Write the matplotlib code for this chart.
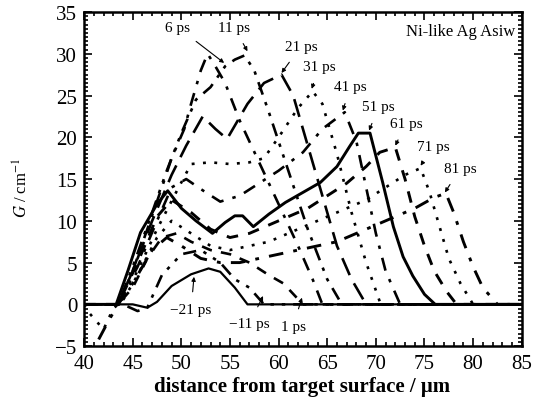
import matplotlib.pyplot as plt
from matplotlib.ticker import MultipleLocator

plt.rcParams["font.family"] = ["Liberation Serif", "DejaVu Serif"]
plt.rcParams["mathtext.fontset"] = "stix"

# gain profiles G(x) at successive delays (ps)
x_m21 = [40, 45, 46.5, 47.5, 49, 51, 52.8, 54, 55.5, 56.8, 85]
g_m21 = [0, 0, -0.4, 0.3, 2.2, 3.6, 4.3, 3.9, 2.0, 0, 0]

x_m11 = [40, 44, 45.5, 46.5, 48, 50, 52, 54, 55.5, 57, 58.5, 85]
g_m11 = [0, 0, -0.8, -0.4, 3.5, 6, 6.5, 5, 3, 2, 0, 0]

x_1 = [40, 43.5, 45, 46.5, 48, 49.5, 51, 53, 55, 57, 59, 60.5, 62.5, 85]
g_1 = [0, 0, 2, 5.5, 8, 8.5, 7.5, 6.5, 6, 5, 3.5, 2.5, 0, 0]

x_6 = [40, 43.5, 45, 46.5, 48, 49, 50.3, 51, 52, 52.7, 53.5, 54.5, 56, 58, 60, 62, 63.5, 64.5, 85]
g_6 = [0, 0, 4, 9, 14, 17.5, 21, 24, 28, 30, 28.5, 26.5, 22, 17, 12, 7, 3, 0, 0]

x_11 = [40, 43.5, 45, 47, 48.5, 50, 51.5, 53, 54.5, 55.5, 56.5, 57.5, 59, 61, 63, 65, 66.5, 85]
g_11 = [0, 0, 4.5, 11, 16, 20.5, 24.5, 26, 28.5, 29.3, 29.8, 28, 23, 16, 9, 3, 0, 0]

x_21 = [40, 43.5, 45, 47, 49, 50.5, 52.2, 53.5, 54.7, 56.8, 58.5, 60.3, 61.5, 63, 64.5, 66, 67.5, 69, 85]
g_21 = [0, 0, 4, 10, 15.5, 19, 22.5, 21, 19.8, 24, 26.5, 27.5, 25, 19, 13, 7, 3, 0, 0]

x_31 = [40, 43.5, 45.5, 47.5, 49.5, 51, 53, 55, 57, 58.5, 60, 62, 63.5, 64.5, 66, 67.5, 69, 70.5, 85]
g_31 = [0, 0, 4, 9, 13.5, 16.8, 17, 16.8, 17, 17.5, 20, 23.5, 25.5, 24, 18, 11, 5, 0, 0]

x_41 = [40, 43.5, 45.5, 47.5, 49, 50.5, 52, 54, 56, 58, 60, 62.5, 64.5, 66.8, 68, 69, 70, 71, 72.5, 85]
g_41 = [0, 0, 4.5, 10, 14, 15, 13.8, 12.3, 13, 14.5, 16, 18.2, 21, 23, 19.5, 14, 8.5, 4, 0, 0]

x_51 = [40, 43.3, 44.5, 45.8, 47.5, 48.6, 50, 51.5, 53.2, 54.5, 55.5, 56.3, 57.4, 59, 60.7, 62.5,
        64.3, 66, 67.3, 68.2, 69.4, 70.7, 71.8, 72.8, 73.8, 75, 76.1, 85]
g_51 = [0, 0, 4, 8.6, 12, 13.6, 11.5, 10, 8.5, 9.8, 10.6, 10.6, 9.3, 10.8, 12.2, 13.4,
        14.6, 16.5, 18.9, 20.5, 20.5, 14.6, 9.3, 5.7, 3.4, 1.2, 0, 0]

x_61 = [40, 43.5, 45.5, 47.5, 49, 51, 53, 55, 57, 59, 61, 63, 65, 67, 69, 70.4, 72, 73, 74, 75,
        76, 77.3, 78.3, 85]
g_61 = [0, 0, 5, 10.5, 12.5, 11, 9, 8, 8.5, 9.5, 10.5, 11.5, 13, 14.5, 16.5, 18.2, 18.8, 15, 10.5, 7,
        4, 1.5, 0, 0]

x_71 = [40, 40.5, 42, 43, 44, 45.5, 47.5, 49, 51, 53, 55, 57, 59, 61, 63, 65, 67, 69, 71, 73,
        74.6, 75.5, 76.5, 77.5, 78.7, 80, 85]
g_71 = [0, -1, -3, -0.5, 0.5, 3.5, 8, 10, 8.5, 7, 6.5, 7, 7.5, 8.5, 9.5, 10.5, 11.5, 12.5, 14, 15.5,
        16.3, 13.5, 9.5, 5.5, 2.5, 0, 0]

x_81 = [41.5, 42.5, 43.5, 45, 47, 48.5, 50, 52, 54, 56, 58, 60, 62, 64, 66, 68, 70, 72, 74, 76,
        77.2, 78, 79, 80, 81, 82.5, 85]
g_81 = [-4.2, -2, 0, 2.5, 6.5, 8, 7, 5.5, 5, 5, 5.5, 6, 6.5, 7, 7.5, 8.5, 9.5, 10.5, 11.5, 12.8,
        13.3, 11, 7.5, 4.5, 2, 0, 0]

dashdot = (0, (5, 3.5, 1.3, 3.5))
dashdotdot = (0, (5, 3, 1.3, 3, 1.3, 3))
dotted = (0, (1.1, 3.2))
dashed = (0, (4, 3.5))
longdash = (0, (7, 3.5))

curves = [
    (x_m21, g_m21, "-", 1.6),
    (x_m11, g_m11, dashdotdot, 1.9),
    (x_1, g_1, dashed, 1.9),
    (x_6, g_6, dashdot, 1.9),
    (x_11, g_11, dashdotdot, 1.9),
    (x_21, g_21, longdash, 1.9),
    (x_31, g_31, dotted, 1.9),
    (x_41, g_41, dashdot, 1.9),
    (x_51, g_51, "-", 2.1),
    (x_61, g_61, dashed, 2.1),
    (x_71, g_71, dotted, 1.9),
    (x_81, g_81, dashdot, 2.1),
]

fig = plt.figure(figsize=(5.39, 4.06), dpi=100)
ax = fig.add_axes([0.156, 0.145, 0.812, 0.823])

for xs, gs, ls, lw in curves:
    ax.plot(xs, gs, color="black", linestyle=ls, linewidth=lw)

# delay labels with arrows: (text, text pos, arrow tip)
labels = [
    ("6 ps", (49.6, 33.2), (54.4, 28.9)),
    ("11 ps", (55.4, 33.2), (56.8, 30.3)),
    ("21 ps", (62.3, 30.9), (60.3, 27.7)),
    ("31 ps", (64.2, 28.5), (63.4, 25.8)),
    ("41 ps", (67.4, 26.1), (66.6, 23.2)),
    ("51 ps", (70.3, 23.7), (69.3, 20.8)),
    ("61 ps", (73.1, 21.7), (72.0, 19.0)),
    ("71 ps", (75.9, 18.9), (74.6, 16.6)),
    ("81 ps", (78.7, 16.3), (77.1, 13.4)),
    ("\u221221 ps", (51.0, -0.6), (51.3, 3.3)),
    ("\u221211 ps", (57.0, -2.3), (58.4, 1.0)),
    ("1 ps", (61.5, -2.6), (62.4, 0.8)),
]
for txt, tpos, tip in labels:
    ax.annotate(txt, xy=tip, xytext=tpos, ha="center", va="center", fontsize=11,
                arrowprops=dict(arrowstyle="-|>", color="black", lw=0.8,
                                mutation_scale=6, shrinkA=6, shrinkB=0))

ax.text(84.3, 32.7, "Ni-like Ag Asiw", ha="right", va="center", fontsize=12)

ax.set_xlim(40, 85)
ax.set_ylim(-5, 35)
ax.xaxis.set_major_locator(MultipleLocator(5))
ax.xaxis.set_minor_locator(MultipleLocator(1))
ax.yaxis.set_major_locator(MultipleLocator(5))
ax.yaxis.set_minor_locator(MultipleLocator(0.5))
ax.tick_params(which="both", direction="in", top=True, right=True, width=1.2)
ax.tick_params(which="major", length=6, labelsize=15)
ax.tick_params(axis="y", which="major", pad=5)
ax.tick_params(axis="x", which="major", pad=6)
ax.tick_params(which="minor", length=3)
for sp in ax.spines.values():
    sp.set_linewidth(1.8)

ax.set_xlabel("distance from target surface / \u03bcm", fontsize=15, fontweight="bold")
ax.xaxis.set_label_coords(0.498, -0.09)
ax.set_ylabel(r"$G$ / cm$^{-1}$", fontsize=12)
ax.yaxis.set_label_coords(-0.12, 0.476)

fig.savefig("out.png", dpi=100)
